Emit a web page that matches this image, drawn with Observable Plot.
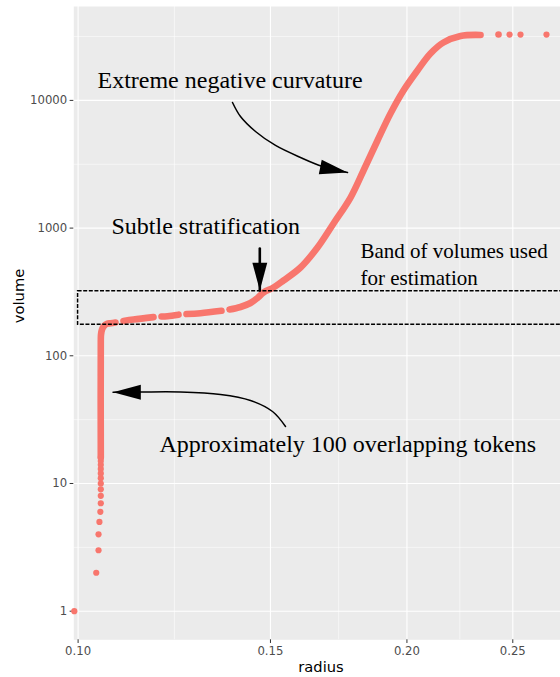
<!DOCTYPE html>
<html><head><meta charset="utf-8">
<script src="https://cdn.jsdelivr.net/npm/d3@7"></script>
<script src="https://cdn.jsdelivr.net/npm/@observablehq/plot@0.6"></script>
<style>html,body{margin:0;padding:0;background:#fff;overflow:hidden}</style>
</head><body><div id="chart"></div>
<script>
// ---- axis ticks ----
const radiusTicks = [0.10, 0.15, 0.20, 0.25];
const radiusMinor = [0.1225, 0.1732, 0.2236];
const volumeTicks = [1, 10, 100, 1000, 10000];
const volumeMinor = [3.162, 31.62, 316.2, 3162, 31623];

// ---- individual tokens (discrete points) ----
const tokenVolume = [1, 2, 3, 4, 5, 6, 7, 8, 9, 10, 11, 12, 13, 14, 15, 16, 32768, 32768, 32768];
const tokenRadius = [0.0992, 0.1039, 0.1044, 0.1044, 0.1046, 0.1048, 0.1049, 0.1049, 0.1049, 0.1049,
                     0.1049, 0.1049, 0.1049, 0.1049, 0.1049, 0.1049, 0.2483, 0.2541, 0.2684];

// ---- dense run of tokens ----
const curveSegment = ["A","A","A","A","A","A","A","A",
                      "B","B","B",
                      "C","C","C",
                      "D","D","D",
                      "E","E","E","E","E","E","E","E","E","E","E","E","E","E","E","E","E","E","E","E"];
const curveRadius = [0.1049, 0.1049, 0.10495, 0.10517, 0.10561, 0.10628, 0.10707, 0.10820,
                     0.11004, 0.11239, 0.11723,
                     0.11922, 0.12074, 0.12357,
                     0.12567, 0.12943, 0.13529,
                     0.13760, 0.14082, 0.14383, 0.14596, 0.14782, 0.15096, 0.15418, 0.15981, 0.16564,
                     0.17133, 0.17758, 0.18251, 0.18797, 0.19319, 0.19856, 0.20450, 0.21018, 0.21602,
                     0.22392, 0.23357, 0.24259];
const curveVolume = [16, 131.8, 146.8, 160.7, 171.2, 178.1, 179.7, 182.0,
                     187.5, 192.4, 200.9,
                     203.1, 204.3, 209.8,
                     212.5, 215.6, 225.1,
                     230.4, 241.1, 259.1, 283.6, 313.1, 342.5, 388.7, 491.4, 704.8,
                     1086.6, 1736, 2826, 4853, 7896, 11955, 17151, 23296, 28407,
                     31945, 32527, 32768];

// ---- band of volumes used for estimation ----
const bandRadius = [0.10, 0.30];
const bandVolume = [175, 320];

// ---- annotations ----
const noteText = ["Extreme negative curvature", "Subtle stratification", "Approximately 100 overlapping tokens"];
const noteRadius = [0.10417, 0.10729, 0.11872];
const noteVolume = [12393, 902.4, 17.49];
const bandNoteText = ["Band of volumes used\nfor estimation"];
const bandNoteRadius = [0.18136];
const bandNoteVolume = [361.6];

// arrow shafts
const shaftId = ["a","a","a","a","a","a","a", "b","b", "c","c","c","c","c","c","c"];
const shaftRadius = [0.13847, 0.14082, 0.14535, 0.15161, 0.15981, 0.16740, 0.17646,
                     0.14667, 0.14667,
                     0.15484, 0.15065, 0.14383, 0.13501, 0.12409, 0.11406, 0.10764];
const shaftVolume = [9630, 7478, 5707, 4436, 3571, 3036, 2725,
                     692, 324.6,
                     27.95, 36.63, 44.67, 49.77, 52.07, 52.07, 51.88];
// arrow heads (tip position and direction, degrees clockwise)
const headRadius = [0.17646, 0.14667, 0.10764];
const headVolume = [2725, 324.6, 51.88];
const headAngle = [11.3, 90, 180];

// ---- build tables ----
const tokens = tokenVolume.map((v, i) => ({radius: tokenRadius[i], volume: v}));
const curve = curveVolume.map((v, i) => ({radius: curveRadius[i], volume: v, seg: curveSegment[i]}));
const notes = noteText.map((t, i) => ({text: t, radius: noteRadius[i], volume: noteVolume[i]}));
const bandNotes = bandNoteText.map((t, i) => ({text: t, radius: bandNoteRadius[i], volume: bandNoteVolume[i]}));
const shafts = shaftVolume.map((v, i) => ({radius: shaftRadius[i], volume: v, id: shaftId[i]}));
const heads = headVolume.map((v, i) => ({radius: headRadius[i], volume: v, angle: headAngle[i]}));
const band = [{x1: bandRadius[0], x2: bandRadius[1], y1: bandVolume[0], y2: bandVolume[1]}];

const HEAD_LEN = 27.8, HEAD_HALF = 7.45;
const arrowHead = {
  draw(context) {
    context.moveTo(0, 0);
    context.lineTo(-HEAD_LEN, -HEAD_HALF);
    context.lineTo(-HEAD_LEN, HEAD_HALF);
    context.closePath();
  }
};

const pointColor = "#F8766D";
const serif = "Liberation Serif, Times New Roman, serif";

const chart = Plot.plot({
  width: 560,
  height: 677,
  marginLeft: 73.3,
  marginRight: 0,
  marginTop: 6,
  marginBottom: 37.7,
  style: {fontFamily: "DejaVu Sans, sans-serif", fontSize: "11.7px", background: "white", overflow: "visible"},
  x: {type: "log", domain: [0.099098, 0.276448]},
  y: {type: "log", domain: [0.597, 54360]},
  marks: [
    Plot.frame({fill: "#EBEBEB", stroke: "none"}),
    Plot.gridX(radiusMinor, {stroke: "white", strokeOpacity: 1, strokeWidth: 0.55}),
    Plot.gridY(volumeMinor, {stroke: "white", strokeOpacity: 1, strokeWidth: 0.55}),
    Plot.gridX(radiusTicks, {stroke: "white", strokeOpacity: 1, strokeWidth: 1.1}),
    Plot.gridY(volumeTicks, {stroke: "white", strokeOpacity: 1, strokeWidth: 1.1}),
    Plot.axisX(radiusTicks, {tickSize: 3.67, tickPadding: 2.9, tickFormat: d => d.toFixed(2),
      stroke: "#333333", fill: "#4D4D4D", fontSize: 11.7, label: null}),
    Plot.axisY(volumeTicks, {tickSize: 3.67, tickPadding: 2.9, tickFormat: d => String(d),
      stroke: "#333333", fill: "#4D4D4D", fontSize: 11.7, label: null}),
    Plot.text(["radius"], {frameAnchor: "bottom", dy: 27.7, dx: 3.85, fontSize: 14.7, fill: "black", lineAnchor: "middle"}),
    Plot.text(["volume"], {frameAnchor: "left", dx: -54.7, rotate: -90, fontSize: 14.7, fill: "black", lineAnchor: "middle"}),
    // data
    Plot.line(curve, {x: "radius", y: "volume", z: "seg", stroke: pointColor, strokeWidth: 6.6, curve: "catmull-rom", strokeLinecap: "round", strokeLinejoin: "round"}),
    Plot.dot(tokens, {x: "radius", y: "volume", r: 3.1, fill: pointColor, stroke: "none"}),
    // band
    Plot.rect(band, {x1: "x1", x2: "x2", y1: "y1", y2: "y2", fill: "none", stroke: "black", strokeWidth: 1.5, strokeDasharray: "4,1.6", clip: true}),
    // annotations
    Plot.text(notes, {x: "radius", y: "volume", text: "text", textAnchor: "start", lineAnchor: "bottom", fontSize: 24, fontFamily: serif, fill: "black"}),
    Plot.text(bandNotes, {x: "radius", y: "volume", text: "text", textAnchor: "start", lineAnchor: "bottom", fontSize: 21, lineHeight: 1.27, fontFamily: serif, fill: "black"}),
    Plot.line(shafts.filter(d => d.id !== "b"), {x: "radius", y: "volume", z: "id", stroke: "black", strokeWidth: 1.5, curve: "catmull-rom"}),
    Plot.line(shafts.filter(d => d.id === "b"), {x: "radius", y: "volume", z: "id", stroke: "black", strokeWidth: 2.6}),
    Plot.dot(heads, {x: "radius", y: "volume", rotate: "angle", symbol: arrowHead, r: 1, fill: "black", stroke: "none"})
  ]
});
document.getElementById("chart").appendChild(chart);
</script>
</body></html>
